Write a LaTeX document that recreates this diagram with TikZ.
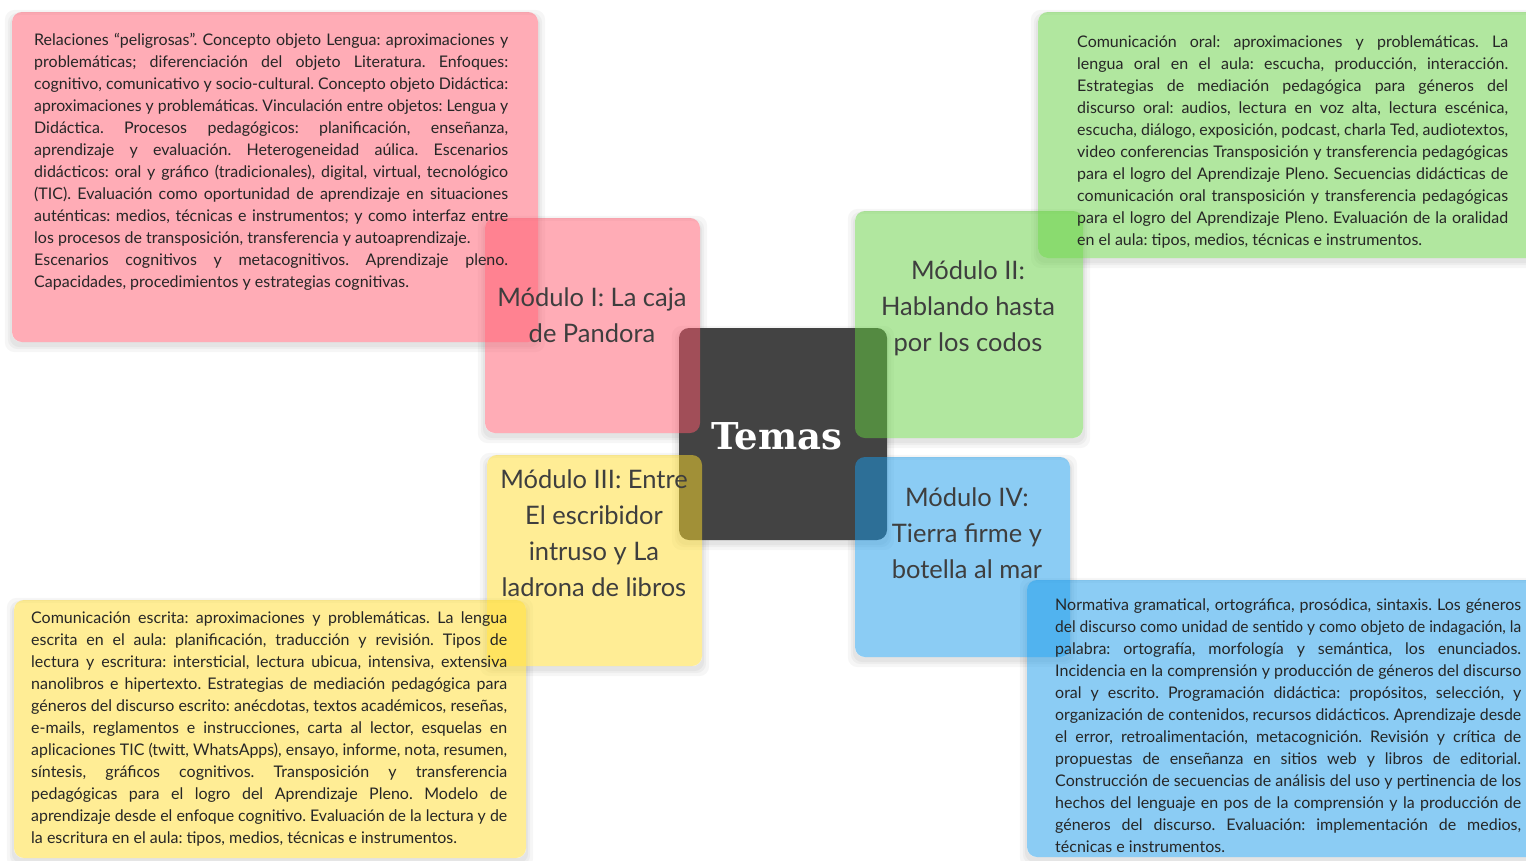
\documentclass[tikz,border=0pt]{standalone}
\usepackage{fontspec}
\usepackage{graphicx}
\setmainfont{Lato}
\newfontfamily\temasfont{DejaVu Serif}
\usetikzlibrary{calc}
\pgfdeclarelayer{backdrop}
\pgfdeclarelayer{bg}
\pgfsetlayers{backdrop,bg,main}
\definecolor{redc}{RGB}{255,90,110}
\definecolor{greenc}{RGB}{101,209,65}
\definecolor{yellowc}{RGB}{255,221,45}
\definecolor{bluec}{RGB}{25,155,235}
\definecolor{corec}{RGB}{67,67,67}
\definecolor{labc}{RGB}{62,62,62}
\definecolor{detc}{RGB}{38,38,38}
\newsavebox\lnbox
\newcommand\jl[1]{\sbox\lnbox{#1}\noindent\ifdim\wd\lnbox>\hsize\scalebox{0.\the\numexpr\hsize*10000/\wd\lnbox\relax}[1]{\usebox\lnbox}\else\makebox[\hsize][s]{#1}\fi\par}
\newcommand\jend[1]{\noindent#1\par}
\newcommand\detfont{\fontsize{16}{22}\selectfont\frenchspacing}
\tikzset{
  panel/.style={rounded corners=10pt, inner sep=0pt, fill opacity=0.5},
  redbox/.style={panel, fill=redc},
  greenbox/.style={panel, fill=greenc},
  yellowbox/.style={panel, fill=yellowc},
  bluebox/.style={panel, fill=bluec},
  corebox/.style={rounded corners=10pt, inner sep=0pt, fill=corec},
  modlabel/.style={align=center, text=labc, inner sep=0pt, font=\fontsize{25.5}{36}\selectfont},
  detail/.style={anchor=base west, inner sep=0pt, text=detc},
  temas/.style={text=white, inner sep=0pt, font=\temasfont\bfseries\fontsize{37}{40}\selectfont},
  shade/.style={black, opacity=0.035, even odd rule, rounded corners=10pt}
}
\begin{document}
\begin{tikzpicture}[x=1pt,y=-1pt]
\begin{pgfonlayer}{backdrop}
\fill[white] (0,0) rectangle (1526,860);
\end{pgfonlayer}
\useasboundingbox (0,0) rectangle (1526,860);

% centre
\node[corebox, minimum width=208pt, minimum height=212pt] (core) at (783,434) {};

% module boxes
\node[redbox, minimum width=215pt, minimum height=215pt] (redM) at (592.5,325.5) {};
\node[greenbox, minimum width=228pt, minimum height=227pt] (greenM) at (969,324.5) {};
\node[yellowbox, minimum width=215pt, minimum height=211pt] (yellowM) at (594.5,560.5) {};
\node[bluebox, minimum width=215pt, minimum height=200pt] (blueM) at (962.5,557) {};

% detail boxes
\node[redbox, minimum width=526pt, minimum height=330pt] (redD) at (275,177) {};
\node[greenbox, minimum width=502pt, minimum height=246pt] (greenD) at (1289,135) {};
\node[yellowbox, minimum width=512pt, minimum height=258pt] (yellowD) at (270,729) {};
\node[bluebox, minimum width=513pt, minimum height=277pt] (blueD) at (1283.5,718.5) {};

% shadows
\begin{pgfonlayer}{bg}
\foreach \n in {core,redM,greenM,yellowM,blueM,redD,greenD,yellowD,blueD}{
  \foreach \k in {2,4,7}{
    \fill[shade] ($(\n.south west)+(-\k,\k+3)$) rectangle ($(\n.north east)+(\k,5-\k)$)
                 (\n.south west) rectangle (\n.north east);
  }
}
\end{pgfonlayer}

% centre label
\node[temas] (temasT) at (777,436) {Temas};

% module labels
\node[modlabel] (m1) at (592,315) {Módulo I: La caja\\de Pandora};
\node[modlabel] (m2) at (968,308) {Módulo II:\\Hablando hasta\\por los codos};
\node[modlabel] (m3) at (594,533) {Módulo III: Entre\\El escribidor\\intruso y La\\ladrona de libros};
\node[modlabel] (m4) at (967,533) {Módulo IV:\\Tierra firme y\\botella al mar};

% detail texts
\node[detail] (d1) at (34,45) {\parbox[t]{474pt}{\detfont
\jl{Relaciones ``peligrosas''. Concepto objeto Lengua: aproximaciones y}
\jl{problemáticas; diferenciación del objeto Literatura. Enfoques:}
\jl{cognitivo, comunicativo y socio-cultural. Concepto objeto Didáctica:}
\jl{aproximaciones y problemáticas. Vinculación entre objetos: Lengua y}
\jl{Didáctica. Procesos pedagógicos: planificación, enseñanza,}
\jl{aprendizaje y evaluación. Heterogeneidad aúlica. Escenarios}
\jl{didácticos: oral y gráfico (tradicionales), digital, virtual, tecnológico}
\jl{(TIC). Evaluación como oportunidad de aprendizaje en situaciones}
\jl{auténticas: medios, técnicas e instrumentos; y como interfaz entre}
\jend{los procesos de transposición, transferencia y autoaprendizaje.}
\jl{Escenarios cognitivos y metacognitivos. Aprendizaje pleno.}
\jend{Capacidades, procedimientos y estrategias cognitivas.}}};

\node[detail] (d2) at (1077,47.5) {\parbox[t]{431pt}{\detfont
\jl{Comunicación oral: aproximaciones y problemáticas. La}
\jl{lengua oral en el aula: escucha, producción, interacción.}
\jl{Estrategias de mediación pedagógica para géneros del}
\jl{discurso oral: audios, lectura en voz alta, lectura escénica,}
\jl{escucha, diálogo, exposición, podcast, charla Ted, audiotextos,}
\jl{video conferencias Transposición y transferencia pedagógicas}
\jl{para el logro del Aprendizaje Pleno. Secuencias didácticas de}
\jl{comunicación oral transposición y transferencia pedagógicas}
\jl{para el logro del Aprendizaje Pleno. Evaluación de la oralidad}
\jend{en el aula: tipos, medios, técnicas e instrumentos.}}};

\node[detail] (d3) at (31,623.5) {\parbox[t]{476pt}{\detfont
\jl{Comunicación escrita: aproximaciones y problemáticas. La lengua}
\jl{escrita en el aula: planificación, traducción y revisión. Tipos de}
\jl{lectura y escritura: intersticial, lectura ubicua, intensiva, extensiva}
\jl{nanolibros e hipertexto. Estrategias de mediación pedagógica para}
\jl{géneros del discurso escrito: anécdotas, textos académicos, reseñas,}
\jl{e-mails, reglamentos e instrucciones, carta al lector, esquelas en}
\jl{aplicaciones TIC (twitt, WhatsApps), ensayo, informe, nota, resumen,}
\jl{síntesis, gráficos cognitivos. Transposición y transferencia}
\jl{pedagógicas para el logro del Aprendizaje Pleno. Modelo de}
\jl{aprendizaje desde el enfoque cognitivo. Evaluación de la lectura y de}
\jend{la escritura en el aula: tipos, medios, técnicas e instrumentos.}}};

\node[detail] (d4) at (1055,610.5) {\parbox[t]{466pt}{\detfont
\jl{Normativa gramatical, ortográfica, prosódica, sintaxis. Los géneros}
\jl{del discurso como unidad de sentido y como objeto de indagación, la}
\jl{palabra: ortografía, morfología y semántica, los enunciados.}
\jl{Incidencia en la comprensión y producción de géneros del discurso}
\jl{oral y escrito. Programación didáctica: propósitos, selección, y}
\jl{organización de contenidos, recursos didácticos. Aprendizaje desde}
\jl{el error, retroalimentación, metacognición. Revisión y crítica de}
\jl{propuestas de enseñanza en sitios web y libros de editorial.}
\jl{Construcción de secuencias de análisis del uso y pertinencia de los}
\jl{hechos del lenguaje en pos de la comprensión y la producción de}
\jl{géneros del discurso. Evaluación: implementación de medios,}
\jend{técnicas e instrumentos.}}};
\end{tikzpicture}
\end{document}
